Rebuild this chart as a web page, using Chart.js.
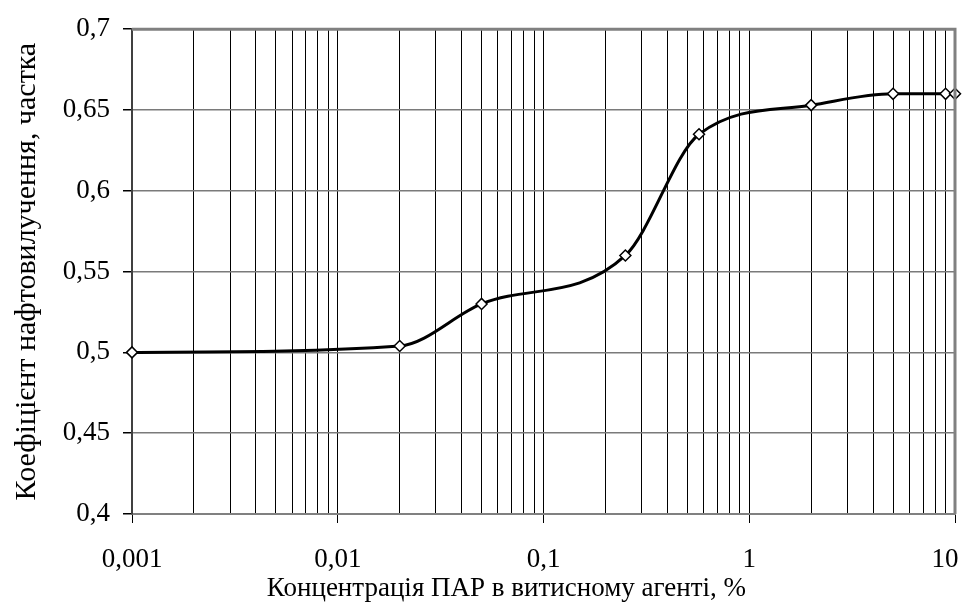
<!DOCTYPE html>
<html>
<head>
<meta charset="utf-8">
<script src="https://cdn.jsdelivr.net/npm/chart.js@4/dist/chart.umd.min.js"></script>
<style>
  html, body { margin: 0; padding: 0; background: #fff; }
  #wrap { width: 972px; height: 608px; position: relative; }
</style>
</head>
<body>
<div id="wrap"><canvas id="c" width="972" height="608"></canvas></div>
<script>
// Data
const concentration = [0.001, 0.02, 0.05, 0.25, 0.57, 2, 5, 9, 10];
const recovery = [0.5, 0.504, 0.53, 0.56, 0.635, 0.653, 0.66, 0.66, 0.66];
const xDecades = [0.001, 0.01, 0.1, 1, 10];
const xTickLabels = ['0,001', '0,01', '0,1', '1', '10'];
const yTickValues = [0.4, 0.45, 0.5, 0.55, 0.6, 0.65, 0.7];
const xTitle = 'Концентрація ПАР в витисному агенті, %';
const yTitle = 'Коефіцієнт нафтовилучення, частка';

const FONT = '"Liberation Serif", "Times New Roman", serif';

function isDecade(v) {
  const l = Math.log10(v);
  return Math.abs(l - Math.round(l)) < 1e-6;
}

// minor + major log ticks: 1..9 × each decade, plus the last decade
function logTicks() {
  const out = [];
  for (let i = 0; i < xDecades.length - 1; i++) {
    for (let m = 1; m <= 9; m++) {
      out.push({ value: parseFloat((m * xDecades[i]).toPrecision(6)) });
    }
  }
  out.push({ value: xDecades[xDecades.length - 1] });
  return out;
}

const frame = {
  id: 'frame',
  afterDatasetsDraw(chart) {
    const a = chart.chartArea, ctx = chart.ctx;
    ctx.save();
    ctx.strokeStyle = '#808080';
    ctx.lineWidth = 3;
    ctx.beginPath();
    ctx.moveTo(a.left, a.top);
    ctx.lineTo(a.right, a.top);
    ctx.lineTo(a.right, a.bottom);
    ctx.stroke();
    ctx.restore();
  }
};

const points = concentration.map((x, i) => ({ x: x, y: recovery[i] }));

new Chart(document.getElementById('c'), {
  type: 'line',
  data: {
    datasets: [{
      data: points,
      borderColor: '#000',
      borderWidth: 3,
      cubicInterpolationMode: 'monotone',
      tension: 0.4,
      pointStyle: 'rectRot',
      pointRadius: 5.5,
      pointBackgroundColor: '#fff',
      pointBorderColor: '#000',
      pointBorderWidth: 1.5,
      clip: false
    }]
  },
  options: {
    responsive: false,
    animation: false,
    layout: { padding: { top: 24, right: 17, left: 0, bottom: 0 } },
    plugins: { legend: { display: false }, tooltip: { enabled: false } },
    scales: {
      x: {
        type: 'logarithmic',
        min: xDecades[0],
        max: xDecades[xDecades.length - 1],
        afterBuildTicks(s) { s.ticks = logTicks(); },
        afterFit(s) { s.height = 94; s.paddingLeft = 0; s.paddingRight = 0; },
        border: { color: '#808080', width: 2 },
        grid: {
          color: '#000',
          lineWidth: 1,
          tickLength: 9,
          tickColor: ctx => (ctx.tick && isDecade(ctx.tick.value)) ? '#000' : 'rgba(0,0,0,0)'
        },
        ticks: {
          autoSkip: false,
          maxRotation: 0,
          minRotation: 0,
          color: '#000',
          padding: 21,
          font: { family: FONT, size: 27 },
          callback: function (v) {
            if (!isDecade(v)) return '';
            const idx = xDecades.findIndex(d => Math.abs(Math.log10(d) - Math.log10(v)) < 1e-6);
            if (idx < 0) return '';
            // last label is kept inside the canvas edge (shifted left), as in the reference
            return idx === xDecades.length - 1 ? xTickLabels[idx] + '   ' : xTickLabels[idx];
          }
        },
        title: {
          display: true,
          // trailing spaces shift the centred title left, as in the reference
          text: xTitle + '           ',
          color: '#000',
          font: { family: FONT, size: 27 },
          padding: { top: 0, bottom: 3 }
        }
      },
      y: {
        min: yTickValues[0],
        max: yTickValues[yTickValues.length - 1],
        afterFit(s) { s.width = 132; },
        afterBuildTicks(s) { s.ticks = yTickValues.map(v => ({ value: v })); },
        border: { color: '#404040', width: 2 },
        grid: {
          color: '#7a7a7a',
          lineWidth: 1.5,
          tickLength: 9,
          tickColor: '#000'
        },
        ticks: {
          color: '#000',
          padding: 13,
          font: { family: FONT, size: 27 },
          callback: v => String(parseFloat(Number(v).toFixed(2))).replace('.', ',')
        },
        title: {
          display: true,
          text: yTitle,
          color: '#000',
          font: { family: FONT, size: 30 },
          padding: { top: 9, bottom: 0 }
        }
      }
    }
  },
  plugins: [frame]
});
</script>
</body>
</html>
